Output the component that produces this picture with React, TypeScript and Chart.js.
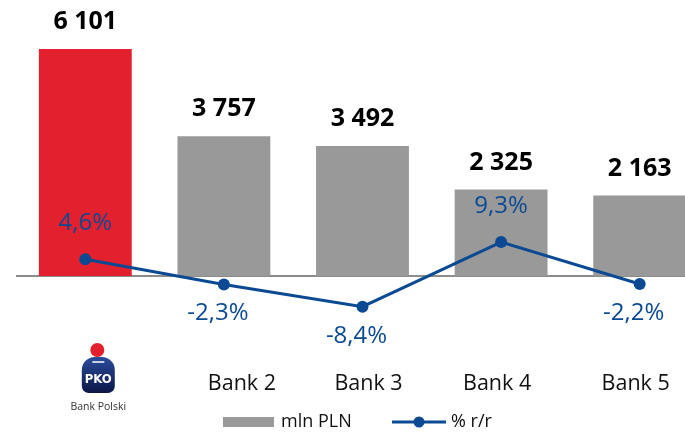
import React, { useEffect, useRef } from "react";
import { Chart, registerables } from "chart.js";

Chart.register(...registerables);

const categories = ["PKO Bank Polski", "Bank 2", "Bank 3", "Bank 4", "Bank 5"];
const volumes = [6101, 3757, 3492, 2325, 2163];
const changes = [4.6, -2.3, -8.4, 9.3, -2.2];
const barColors = ["#E3202E", "#999999", "#999999", "#999999", "#999999"];
const seriesNames = ["mln PLN", "% r/r"];

const LINE_COLOR = "#0B4A93";
const FONT = "'Open Sans', 'DejaVu Sans', sans-serif";
const labelShift = [0, 18, 6, -4, -4];

const fmtVol = (v: number) => String(v).replace(/\B(?=(\d{3})+(?!\d))/g, " ");
const fmtPct = (v: number) => v.toFixed(1).replace(".", ",") + "%";

const overlay = {
  id: "overlay",
  beforeDatasetsDraw(chart: any) {
    const { ctx, chartArea, scales } = chart;
    const y0 = scales.y.getPixelForValue(0);
    ctx.save();
    ctx.strokeStyle = "#8c8c8c";
    ctx.lineWidth = 2;
    ctx.beginPath();
    ctx.moveTo(chartArea.left, y0);
    ctx.lineTo(chartArea.right, y0);
    ctx.stroke();
    ctx.restore();
  },
  afterDatasetsDraw(chart: any) {
    const { ctx, scales } = chart;
    const barMeta = chart.getDatasetMeta(1);
    const lineMeta = chart.getDatasetMeta(0);
    ctx.save();
    ctx.textAlign = "center";
    ctx.textBaseline = "middle";
    // bar value labels
    ctx.fillStyle = "#000";
    ctx.font = `bold 25px ${FONT}`;
    barMeta.data.forEach((el: any, i: number) => {
      ctx.fillText(fmtVol(volumes[i]), el.x, el.y - 27);
    });
    // percent labels
    ctx.fillStyle = LINE_COLOR;
    ctx.font = `24px ${FONT}`;
    lineMeta.data.forEach((el: any, i: number) => {
      const v = changes[i];
      const dy = v >= 0 ? -36 : 29;
      ctx.fillText(fmtPct(v), el.x - (v < 0 ? 6 : 0), el.y + dy);
    });
    // category labels
    ctx.fillStyle = "#111";
    ctx.font = `21.5px ${FONT}`;
    categories.forEach((c, i) => {
      if (i === 0) return;
      ctx.fillText(c, scales.x.getPixelForValue(i) + labelShift[i], 384);
    });
    // logo for first category
    const lx = scales.x.getPixelForValue(0) + 13;
    ctx.fillStyle = "#E3202E";
    ctx.beginPath();
    ctx.arc(lx - 1, 350, 7, 0, Math.PI * 2);
    ctx.fill();
    const g = ctx.createLinearGradient(0, 357, 0, 393);
    g.addColorStop(0, "#2b4c9c");
    g.addColorStop(1, "#0c1747");
    ctx.fillStyle = g;
    ctx.beginPath();
    (ctx as any).roundRect(lx - 16.5, 357, 33, 36, [13, 13, 7, 7]);
    ctx.fill();
    ctx.strokeStyle = "#fff";
    ctx.lineWidth = 1.5;
    ctx.beginPath();
    ctx.moveTo(lx - 6, 362);
    ctx.lineTo(lx + 6, 362);
    ctx.stroke();
    ctx.fillStyle = "#fff";
    ctx.font = `bold 13px 'DejaVu Sans Condensed', ${FONT}`;
    ctx.fillText("PKO", lx, 380);
    ctx.fillStyle = "#333";
    ctx.font = `10.5px ${FONT}`;
    ctx.fillText("Bank Polski", lx, 407);
    // legend
    ctx.fillStyle = barColors[1];
    ctx.fillRect(223, 417, 51, 10);
    ctx.fillStyle = "#111";
    ctx.font = `18px ${FONT}`;
    ctx.textAlign = "left";
    ctx.fillText(seriesNames[0], 281, 422);
    ctx.strokeStyle = LINE_COLOR;
    ctx.lineWidth = 3;
    ctx.beginPath();
    ctx.moveTo(392, 422);
    ctx.lineTo(446, 422);
    ctx.stroke();
    ctx.fillStyle = LINE_COLOR;
    ctx.beginPath();
    ctx.arc(419, 422, 5.5, 0, Math.PI * 2);
    ctx.fill();
    ctx.fillStyle = "#111";
    ctx.fillText(seriesNames[1], 451, 422);
    ctx.restore();
  },
};

export default function App() {
  const ref = useRef<HTMLCanvasElement>(null);
  useEffect(() => {
    if (!ref.current) return;
    const chart = new Chart(ref.current, {
      type: "bar",
      data: {
        labels: categories,
        datasets: [
          {
            type: "line",
            label: seriesNames[1],
            data: changes,
            yAxisID: "y1",
            borderColor: LINE_COLOR,
            backgroundColor: LINE_COLOR,
            borderWidth: 3,
            pointRadius: 6,
            pointBackgroundColor: LINE_COLOR,
            pointBorderWidth: 0,
            order: 0,
          } as any,
          {
            type: "bar",
            label: seriesNames[0],
            data: volumes,
            yAxisID: "y",
            backgroundColor: barColors,
            barPercentage: 0.67,
            categoryPercentage: 1,
            order: 1,
          },
        ],
      },
      options: {
        responsive: false,
        animation: false,
        layout: { autoPadding: false, padding: { left: 16, right: 0, top: 0, bottom: 72 } },
        plugins: { legend: { display: false }, tooltip: { enabled: false } },
        scales: {
          x: { display: false },
          y: { display: false, min: -2257, max: 7418 },
          y1: { display: false, min: -23, max: 75.6 },
        },
      },
      plugins: [overlay],
    });
    return () => chart.destroy();
  }, []);
  return (
    <div
      style={{
        position: "fixed",
        left: 0,
        top: 0,
        width: 685,
        height: 432,
        overflow: "hidden",
        background: "#fff",
      }}
    >
      <canvas ref={ref} width={709} height={432} />
    </div>
  );
}
